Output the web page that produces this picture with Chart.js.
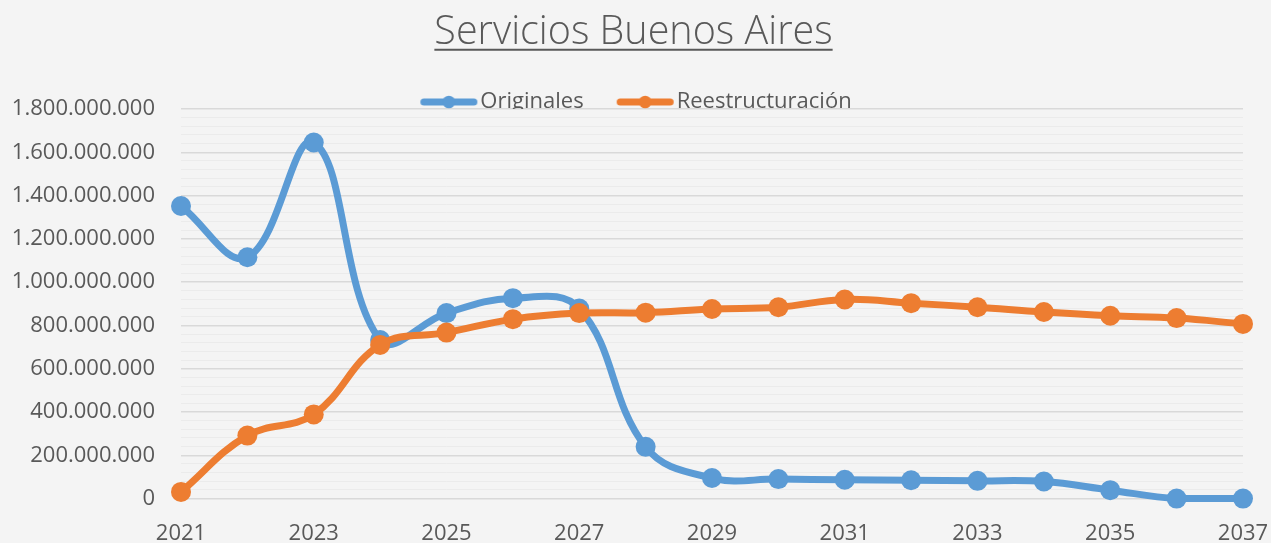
<!DOCTYPE html>
<html><head><meta charset="utf-8">
<script src="https://cdn.jsdelivr.net/npm/chart.js@4"></script>
<style>
html,body{margin:0;padding:0;background:#f4f4f4;overflow:hidden;}
#wrap{position:relative;width:1271px;height:561px;}
</style></head><body>
<div id="wrap"><canvas id="c"></canvas></div>
<script>
const years = ['2021','2022','2023','2024','2025','2026','2027','2028','2029','2030','2031','2032','2033','2034','2035','2036','2037'];
const originales = [1352e6, 1115e6, 1645e6, 733e6, 857e6, 926e6, 878e6, 239e6, 95e6, 90e6, 87e6, 85e6, 82e6, 79e6, 39e6, 0, 0];
const reestructuracion = [31e6, 291e6, 389e6, 710e6, 767e6, 829e6, 857e6, 859e6, 876e6, 884e6, 920e6, 903e6, 884e6, 862e6, 845e6, 834e6, 807e6];
const seriesNames = ['Originales', 'Reestructuración'];
const chartTitle = 'Servicios Buenos Aires';
const yMin = 0, yMax = 1800000000, yMinorStep = 40000000, yMajorStep = 200000000;

const BLUE = '#5B9BD5', ORANGE = '#ED7D31', TEXT = '#595959';
const FONT = 'Open Sans';

function fmt(v){ return String(Math.round(v)).replace(/\B(?=(\d{3})+(?!\d))/g, '.'); }
function isMajor(v){ const r = v / yMajorStep; return Math.abs(r - Math.round(r)) < 1e-6; }

function marker(color){
  const c = document.createElement('canvas');
  c.width = 100; c.height = 14;
  const x = c.getContext('2d');
  x.strokeStyle = color; x.lineWidth = 7; x.lineCap = 'round';
  x.beginPath(); x.moveTo(31.5, 7); x.lineTo(81.5, 7); x.stroke();
  x.fillStyle = color; x.beginPath(); x.arc(56.5, 7, 6.3, 0, Math.PI * 2); x.fill();
  return c;
}
const markers = [marker(BLUE), marker(ORANGE)];

const underline = {
  id: 'underline',
  afterDraw(chart){
    const tb = chart.titleBlock; if (!tb) return;
    const o = chart.options.plugins.title;
    const ctx = chart.ctx;
    ctx.save();
    ctx.font = (o.font.weight || '') + ' ' + o.font.size + 'px "' + o.font.family + '"';
    const w = ctx.measureText(o.text).width;
    const titleCx = tb.left + tb.width / 2;
    const cy = tb.top + o.padding.top + o.font.size * 1.2 / 2;
    ctx.strokeStyle = TEXT; ctx.lineWidth = 2;
    ctx.beginPath();
    ctx.moveTo(titleCx - w / 2, cy + 17); ctx.lineTo(titleCx + w / 2, cy + 17);
    ctx.stroke();
    ctx.restore();
  }
};

new Chart(document.getElementById('c'), {
  type: 'line',
  data: {
    labels: years,
    datasets: [
      { label: seriesNames[0], data: originales, borderColor: BLUE, backgroundColor: BLUE,
        pointBackgroundColor: BLUE, pointBorderWidth: 0, pointRadius: 10, borderWidth: 7,
        tension: 0.4, fill: false, order: 1, clip: false },
      { label: seriesNames[1], data: reestructuracion, borderColor: ORANGE, backgroundColor: ORANGE,
        pointBackgroundColor: ORANGE, pointBorderWidth: 0, pointRadius: 10, borderWidth: 7,
        tension: 0.4, fill: false, order: 0, clip: false }
    ]
  },
  options: {
    responsive: true, maintainAspectRatio: false, animation: false,
    layout: { autoPadding: false, padding: { left: 12, right: 16, top: 8, bottom: 0 } },
    plugins: {
      title: { display: true, text: chartTitle, color: TEXT,
        font: { family: FONT, size: 39.5, weight: '300' }, padding: { top: 1, bottom: 6.6 } },
      legend: { display: true, position: 'top', maxHeight: 46,
        labels: {
          color: TEXT, font: { family: FONT, size: 22 }, usePointStyle: true, pointStyleWidth: 54,
          padding: 28,
          sort: (a, b) => a.datasetIndex - b.datasetIndex,
          generateLabels(chart){
            const items = Chart.defaults.plugins.legend.labels.generateLabels(chart);
            items.forEach(it => { it.pointStyle = markers[it.datasetIndex]; });
            return items;
          }
        } },
      tooltip: { enabled: false }
    },
    scales: {
      x: { type: 'category', offset: false, grid: { display: false }, border: { display: false },
        afterFit(scale){ scale.paddingLeft = 0; scale.paddingRight = 28; },
        ticks: { color: TEXT, font: { family: FONT, size: 22 }, autoSkip: false, maxRotation: 0, padding: 14,
          callback: (v, i) => (i % 2 === 0 ? years[i] : '') } },
      y: { min: yMin, max: yMax, border: { display: false },
        afterFit(scale){ scale.width = 169; },
        grid: { drawTicks: false,
          color: c => isMajor(c.tick.value) ? '#d9d9d9' : '#ebebeb',
          lineWidth: c => isMajor(c.tick.value) ? 1.5 : 1 },
        ticks: { stepSize: yMinorStep, autoSkip: false, color: TEXT, font: { family: FONT, size: 22 }, padding: 26,
          callback: v => (isMajor(v) ? fmt(v) : '') } }
    }
  },
  plugins: [underline]
});
</script>
</body></html>
